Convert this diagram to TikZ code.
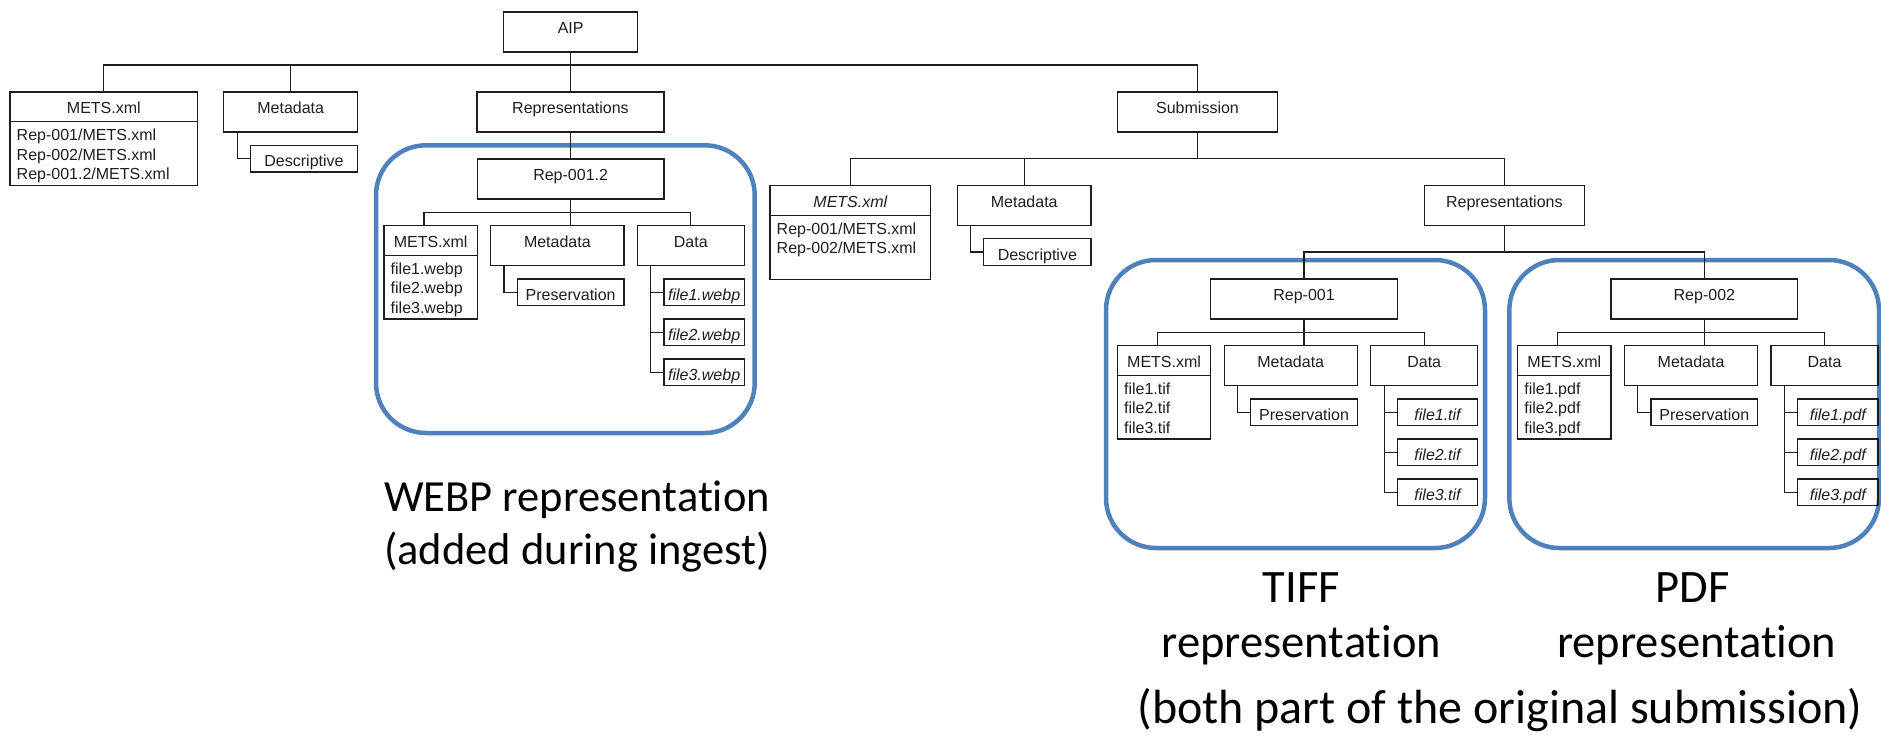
\documentclass[tikz,border=0pt]{standalone}
\usepackage{fontspec}
\newfontfamily\boxfont[Ligatures=NoCommon]{Liberation Sans}
\newfontfamily\capfont[Ligatures=NoCommon]{Carlito}
\definecolor{framec}{RGB}{79,129,189}
\definecolor{linec}{RGB}{30,30,30}
\tikzset{
  every node/.style={inner sep=0pt, outer sep=0pt},
  plainbox/.style={draw=linec, line width=1.15pt, anchor=north west, minimum height=40pt,
    text height=8pt, text depth=4.5pt, text=linec,
    font=\boxfont\fontsize{16}{19.6}\selectfont},
  smallbox/.style={plainbox, minimum height=26.7pt, text height=16.5pt, text depth=0pt},
  headbox/.style={plainbox, minimum height=29.6pt, text height=14.3pt, text depth=0pt},
  bodybox/.style={draw=linec, line width=1.15pt, anchor=north west},
  listline/.style={anchor=base west, text=linec, font=\boxfont\fontsize{16}{19.6}\selectfont},
  wire/.style={draw=linec, line width=1.15pt},
  groupframe/.style={draw=framec, line width=4.5pt, rounded corners=50pt, anchor=north west},
  biglabel/.style={anchor=base, text=black, font=\capfont\fontsize{46.5}{56}\selectfont},
}

% One representation folder: Rep box, METS.xml list, Metadata/Preservation, Data/files
% #1 name prefix, #2 #3 shift, #4 title, #5 file extension
\newcommand{\RepTree}[5]{%
\begin{scope}[shift={(#2,#3)}]
  \node[plainbox, minimum width=186.7pt] (#1rep) at (477.3,159) {#4};
  \node[headbox, minimum width=93.3pt] (#1mets) at (384,225.7) {METS.xml};
  \node[bodybox, minimum width=93.3pt, minimum height=63.7pt] (#1metsbody) at (384,255.3) {};
  \node[listline] (#1la) at (390.7,274.1) {file1.#5};
  \node[listline] (#1lb) at (390.7,293.7) {file2.#5};
  \node[listline] (#1lc) at (390.7,313.3) {file3.#5};
  \node[plainbox, minimum width=133.3pt] (#1meta) at (490.7,225.7) {Metadata};
  \node[smallbox, minimum width=106.7pt] (#1pres) at (517.3,279) {Preservation};
  \node[plainbox, minimum width=107pt] (#1data) at (637.3,225.7) {Data};
  \node[smallbox, minimum width=80.3pt] (#1fa) at (664,279) {\itshape file1.#5};
  \node[smallbox, minimum width=80.3pt] (#1fb) at (664,319) {\itshape file2.#5};
  \node[smallbox, minimum width=80.3pt] (#1fc) at (664,359) {\itshape file3.#5};
  \coordinate (#1bus) at (424,212.3);
  \draw[wire] (#1bus |- #1mets.north) -- (#1bus) -- (#1data.north |- #1bus) -- (#1data.north);
  \draw[wire] (#1rep.south) -- (#1rep.south |- #1meta.north);
  \draw[wire] ([xshift=13.3pt]#1meta.south west) |- (#1pres.west);
  \draw[wire] ([xshift=13.4pt]#1data.south west) |- (#1fa.west);
  \draw[wire] ([xshift=13.4pt]#1data.south west) |- (#1fb.west);
  \draw[wire] ([xshift=13.4pt]#1data.south west) |- (#1fc.west);
\end{scope}}

\begin{document}
\begin{tikzpicture}[x=1pt,y=-1pt]
\useasboundingbox (0,0) rectangle (1881,747);

% blue frames around the three representations
\node[groupframe, minimum width=378.7pt, minimum height=287.7pt] (wframe) at (376,145.3) {};
\node[groupframe, minimum width=379pt, minimum height=288pt] (tframe) at (1106,260) {};
\node[groupframe, minimum width=369.7pt, minimum height=288pt] (pframe) at (1509.3,260) {};

% AIP root and its children
\node[plainbox, minimum width=134pt] (aip) at (503.7,12) {AIP};
\node[headbox, minimum width=187.7pt] (aipmets) at (10,92) {METS.xml};
\node[bodybox, minimum width=187.7pt, minimum height=64pt] (aipmetsbody) at (10,121.7) {};
\node[listline] (aipla) at (16.7,140.6) {Rep-001/METS.xml};
\node[listline] (aiplb) at (16.7,160.2) {Rep-002/METS.xml};
\node[listline] (aiplc) at (16.7,179.8) {Rep-001.2/METS.xml};
\node[plainbox, minimum width=134pt] (aipmeta) at (223.7,92) {Metadata};
\node[smallbox, minimum width=107.2pt] (aipdesc) at (250.4,145.3) {Descriptive};
\node[plainbox, minimum width=187pt] (aipreps) at (477,92) {Representations};
\node[plainbox, minimum width=160.4pt] (sub) at (1117.3,92) {Submission};

\coordinate (aipbus) at (570.7,65);
\draw[wire] (aipmets.north) -- (aipmets.north |- aipbus) -- (sub.north |- aipbus) -- (sub.north);
\draw[wire] (aipmeta.north) -- (aipmeta.north |- aipbus);
\draw[wire] (aip.south) -- (aip.south |- aipreps.north);
\draw[wire] ([xshift=13.8pt]aipmeta.south west) |- (aipdesc.west);

% Submission children
\node[headbox, minimum width=160.6pt] (submets) at (770,185.7) {\itshape METS.xml};
\node[bodybox, minimum width=160.6pt, minimum height=64pt] (submetsbody) at (770,215.3) {};
\node[listline] (subla) at (776.7,234.1) {Rep-001/METS.xml};
\node[listline] (sublb) at (776.7,253.7) {Rep-002/METS.xml};
\node[plainbox, minimum width=133.5pt] (submeta) at (957.5,185.7) {Metadata};
\node[smallbox, minimum width=107.3pt] (subdesc) at (983.7,238.7) {Descriptive};
\node[plainbox, minimum width=160pt] (subreps) at (1424.3,185.7) {Representations};

\coordinate (subbus) at (1197.5,158.5);
\draw[wire] (submets.north) -- (submets.north |- subbus) -- (subreps.north |- subbus) -- (subreps.north);
\draw[wire] (sub.south) -- (sub.south |- subbus);
\draw[wire] (submeta.north) -- (submeta.north |- subbus);
\draw[wire] ([xshift=13.1pt]submeta.south west) |- (subdesc.west);

% the three representation folders
\RepTree{w}{0}{0}{Rep-001.2}{webp}
\RepTree{t}{733.4}{120}{Rep-001}{tif}
\RepTree{p}{1133.7}{120}{Rep-002}{pdf}

\draw[wire] (aipreps.south) -- (aipreps.south |- wrep.north);
\coordinate (repbus) at (1504.3,252);
\draw[wire] (trep.north) -- (trep.north |- repbus) -- (prep.north |- repbus) -- (prep.north);
\draw[wire] (subreps.south) -- (subreps.south |- repbus);

% captions
\node[biglabel, font=\capfont\fontsize{44.5}{54}\selectfont] (wcapa) at (577,511.7) {WEBP representation};
\node[biglabel, font=\capfont\fontsize{44.5}{54}\selectfont] (wcapb) at (577,564) {(added during ingest)};
\node[biglabel] (tcapa) at (1301.5,602.7) {TIFF};
\node[biglabel] (tcapb) at (1301.3,657) {representation};
\node[biglabel] (pcapa) at (1692.5,602.7) {PDF};
\node[biglabel] (pcapb) at (1696.7,657) {representation};
\node[biglabel, font=\capfont\fontsize{48}{58}\selectfont] (note) at (1500,723) {(both part of the original submission)};
\end{tikzpicture}
\end{document}
